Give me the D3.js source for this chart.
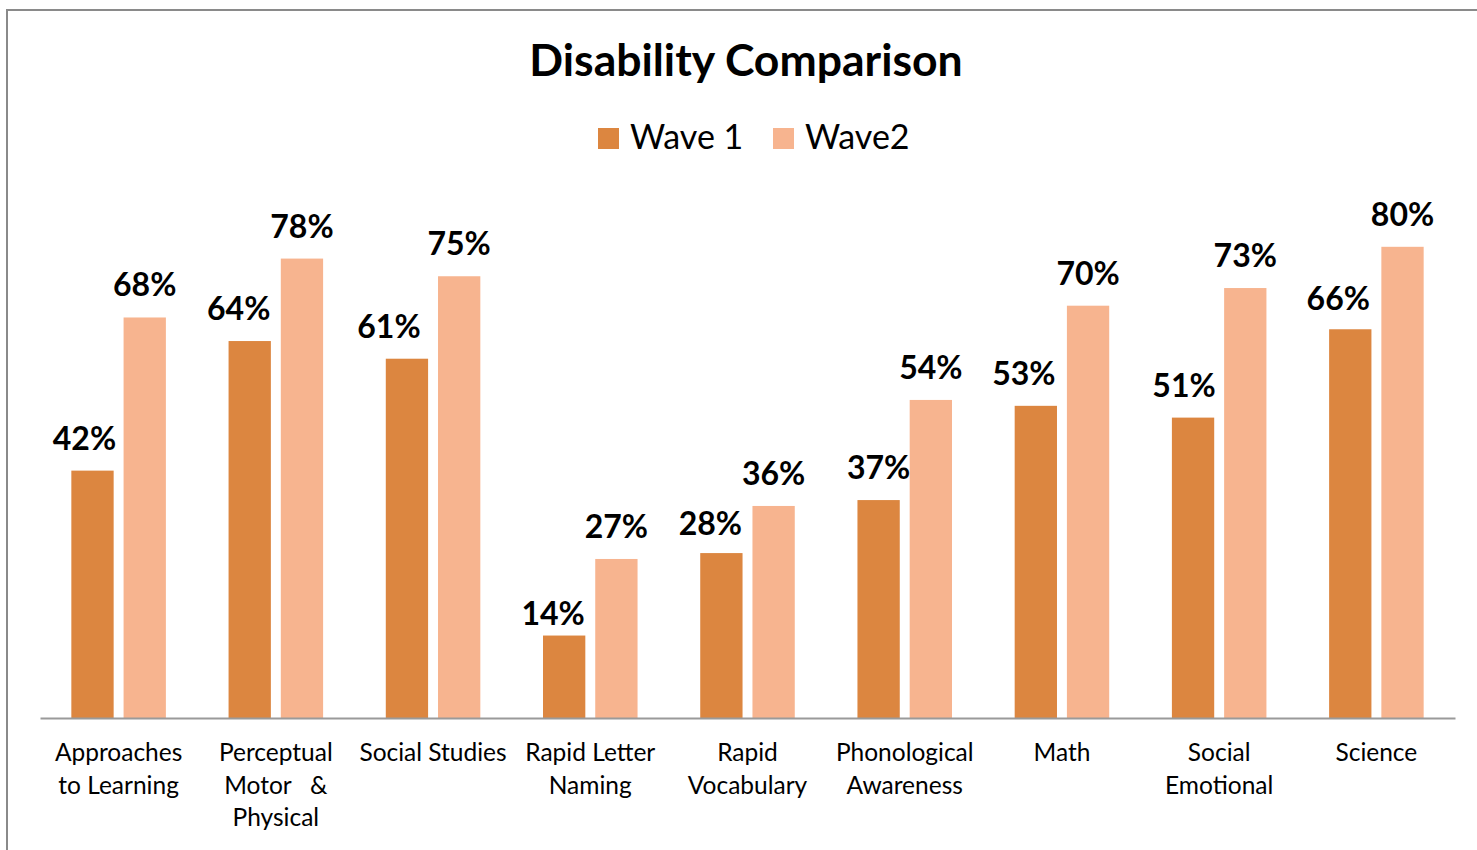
<!DOCTYPE html>
<html>
<head>
<meta charset="utf-8">
<script src="https://cdn.jsdelivr.net/npm/d3@7.9.0/dist/d3.min.js"></script>
<style>
  html, body { margin: 0; padding: 0; background: #fff; }
  svg { display: block; font-family: Lato, "Open Sans", sans-serif; }
</style>
</head>
<body>
<svg id="chart" width="1477" height="850"></svg>
<script>
// Categories, each split into the lines shown under the axis
const categories = [
  "Approaches to Learning",
  "Perceptual Motor & Physical",
  "Social Studies",
  "Rapid Letter Naming",
  "Rapid Vocabulary",
  "Phonological Awareness",
  "Math",
  "Social Emotional",
  "Science"
];
const categoryLines = [
  ["Approaches", "to Learning"],
  ["Perceptual", "Motor   &", "Physical"],
  ["Social Studies"],
  ["Rapid Letter", "Naming"],
  ["Rapid", "Vocabulary"],
  ["Phonological", "Awareness"],
  ["Math"],
  ["Social", "Emotional"],
  ["Science"]
];

const seriesNames = ["Wave 1", "Wave2"];
const wave1 = [0.42, 0.64, 0.61, 0.14, 0.28, 0.37, 0.53, 0.51, 0.66];
const wave2 = [0.68, 0.78, 0.75, 0.27, 0.36, 0.54, 0.70, 0.73, 0.80];
const colors = ["#DC8640", "#F7B48F"];

// hand-placed Wave 1 label nudges (the original had them dragged a bit left)
const wave1LabelDx = [-8, -11, -18, -11, -11, 0, -12, -9, -12];
const wave1LabelDy = [0, 0, 0, 10, 3, 0, 0, 0, 2];

const svg = d3.select("#chart");

// chart frame (left and top edges only are visible)
svg.append("line").attr("x1", 7).attr("x2", 7).attr("y1", 10).attr("y2", 850)
  .attr("stroke", "#8a8a8a").attr("stroke-width", 2);
svg.append("line").attr("x1", 6).attr("x2", 1477).attr("y1", 10).attr("y2", 10)
  .attr("stroke", "#8a8a8a").attr("stroke-width", 2);

// scales
const x = d3.scaleBand().domain(categories).range([40, 1455]);
const xSub = d3.scaleBand().domain(seriesNames).range([0, x.bandwidth()])
  .paddingInner(0.19).paddingOuter(0.6);
const y = d3.scaleLinear().domain([0, 1]).range([718, 129]);

const rows = categories.map((c, i) => ({
  category: c,
  values: [
    { series: seriesNames[0], value: wave1[i], color: colors[0], dx: wave1LabelDx[i], dy: wave1LabelDy[i] },
    { series: seriesNames[1], value: wave2[i], color: colors[1], dx: 0, dy: 0 }
  ]
}));

const groups = svg.append("g").selectAll("g")
  .data(rows)
  .join("g")
  .attr("transform", d => `translate(${x(d.category)},0)`);

groups.selectAll("rect")
  .data(d => d.values)
  .join("rect")
  .attr("x", d => xSub(d.series))
  .attr("y", d => y(d.value))
  .attr("width", xSub.bandwidth())
  .attr("height", d => y(0) - y(d.value))
  .attr("fill", d => d.color);

// value labels above the bars
groups.selectAll("text.val")
  .data(d => d.values)
  .join("text")
  .attr("class", "val")
  .attr("x", d => xSub(d.series) + xSub.bandwidth() / 2 + d.dx)
  .attr("y", d => y(d.value) - 21 + d.dy)
  .attr("text-anchor", "middle")
  .attr("font-size", 32)
  .attr("font-weight", "bold")
  .attr("fill", "#000")
  .text(d => d3.format(".0%")(d.value));

// x axis
const xAxis = svg.append("g")
  .attr("transform", `translate(0,${y(0)})`)
  .call(d3.axisBottom(x).tickSize(0).tickFormat(""));
xAxis.select(".domain").attr("stroke", "#9a9a9a").attr("stroke-width", 2);

// category labels (multi-line)
svg.append("g").selectAll("text")
  .data(categories)
  .join("text")
  .attr("x", d => x(d) + x.bandwidth() / 2)
  .attr("y", 761)
  .attr("text-anchor", "middle")
  .attr("font-size", 24.5)
  .attr("fill", "#000")
  .selectAll("tspan")
  .data((d, i) => categoryLines[i])
  .join("tspan")
  .attr("x", function () { return d3.select(this.parentNode).attr("x"); })
  .attr("dy", (d, i) => i === 0 ? 0 : 32.5)
  .style("white-space", "pre")
  .text(d => d);

// title
svg.append("text")
  .attr("x", 746).attr("y", 76)
  .attr("text-anchor", "middle")
  .attr("font-size", 44.5)
  .attr("font-weight", "bold")
  .text("Disability Comparison");

// legend
const legendX = [598, 773];
const legend = svg.append("g").selectAll("g")
  .data(seriesNames)
  .join("g")
  .attr("transform", (d, i) => `translate(${legendX[i]},128)`);
legend.append("rect").attr("width", 21).attr("height", 21)
  .attr("fill", (d, i) => colors[i]);
legend.append("text").attr("x", 32).attr("y", 21)
  .attr("font-size", 34)
  .text(d => d);
</script>
</body>
</html>
